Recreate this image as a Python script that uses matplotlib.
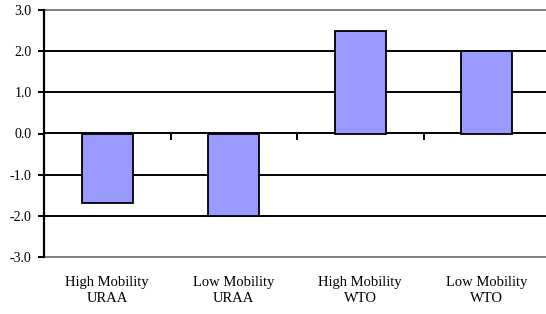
import matplotlib
matplotlib.use("Agg")
import matplotlib.pyplot as plt
from matplotlib.ticker import NullFormatter

categories = ["High Mobility\nURAA", "Low Mobility\nURAA", "High Mobility\nWTO", "Low Mobility\nWTO"]
values = [-1.7, -2.0, 2.5, 2.0]
yticks = [-3.0, -2.0, -1.0, 0.0, 1.0, 2.0, 3.0]

plt.rcParams['font.family'] = ['Liberation Serif', 'DejaVu Serif']

fig = plt.figure(figsize=(5.46, 3.14), dpi=100)
ax = fig.add_axes([44/546, 1-257/314, 506/546, 247/314])

x = list(range(len(categories)))
ax.bar(x, values, width=0.4, color='#9999ff', edgecolor='black', linewidth=1.3, zorder=3)

for yv in yticks:
    if yv in (-3.0, 0.0, 3.0):
        continue
    ax.axhline(yv, color='black', linewidth=1.4, zorder=1)

ax.set_xlim(-0.5, len(categories) - 0.5)
ax.set_ylim(yticks[0], yticks[-1])
ax.set_yticks(yticks)
ax.set_yticklabels([f"{v:.1f}" for v in yticks], fontsize=10)
ax.set_xticks(x)
ax.set_xticklabels(categories, fontsize=10.5, linespacing=1.3)
ax.tick_params(axis='x', length=0, pad=14)
ax.tick_params(axis='y', direction='out', length=4, width=1.4, color='black', pad=5)

for s in ('top', 'bottom'):
    ax.spines[s].set_color('#808080')
    ax.spines[s].set_linewidth(1.4)
ax.spines['right'].set_visible(False)
ax.spines['left'].set_color('black')
ax.spines['left'].set_linewidth(1.6)
ax.spines['left'].set_zorder(4)

sec = ax.secondary_xaxis(0.5)
sec.set_xticks([i + 0.5 for i in x[:-1]])
sec.xaxis.set_major_formatter(NullFormatter())
sec.xaxis.set_ticks_position('bottom')
sec.tick_params(axis='x', direction='out', length=4, width=1.4, color='black')
for s in sec.spines.values():
    s.set_color('black')
    s.set_linewidth(1.4)

fig.savefig("out.png", dpi=100)
